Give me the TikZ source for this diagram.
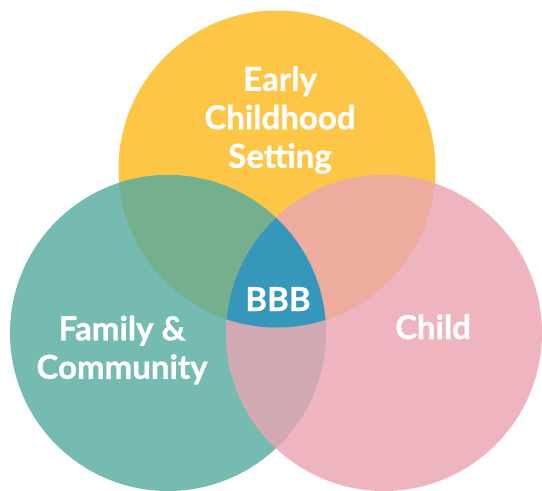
\documentclass[tikz,border=0pt]{standalone}
\usepackage{fontspec}
\setmainfont{Lato}
\newfontfamily\lblfont{Lato}[BoldFeatures={FakeBold=0.9}]
\definecolor{cyellow}{HTML}{FDC646}
\definecolor{cteal}{HTML}{76BBB2}
\definecolor{cpink}{HTML}{EEB5C1}
\definecolor{cyt}{HTML}{74B08E}
\definecolor{cyp}{HTML}{EDAC9D}
\definecolor{ctp}{HTML}{D1A9B2}
\definecolor{cblue}{HTML}{3597BA}
\tikzset{
  lbl/.style={text=white, font=\lblfont\fontsize{33}{38.5}\selectfont\bfseries, align=center, inner sep=0pt},
}
\begin{document}
\begin{tikzpicture}[x=1pt,y=-1pt]
\useasboundingbox (0,0) rectangle (542,491);
\def\ycirc{(277,169) circle[radius=158.5]}
\def\tcirc{(168,333) circle[radius=158]}
\def\pcirc{(384,333) circle[radius=158]}
\fill[cyellow] \ycirc;
\fill[cteal] \tcirc;
\fill[cpink] \pcirc;
\begin{scope}
  \clip \ycirc;
  \fill[cyt] \tcirc;
  \fill[cyp] \pcirc;
\end{scope}
\begin{scope}
  \clip \tcirc;
  \fill[ctp] \pcirc;
\end{scope}
\begin{scope}
  \clip \ycirc;
  \clip \tcirc;
  \fill[cblue] \pcirc;
\end{scope}
\node[lbl] (ecs) at (280,120) {Early\\Childhood\\Setting};
\node[lbl] (fc) at (122,350) {Family \&\\Community};
\node[lbl, anchor=base] (child) at (433,339) {Child};
\node[lbl, anchor=base] (bbb) at (278,311) {BBB};
\end{tikzpicture}
\end{document}
